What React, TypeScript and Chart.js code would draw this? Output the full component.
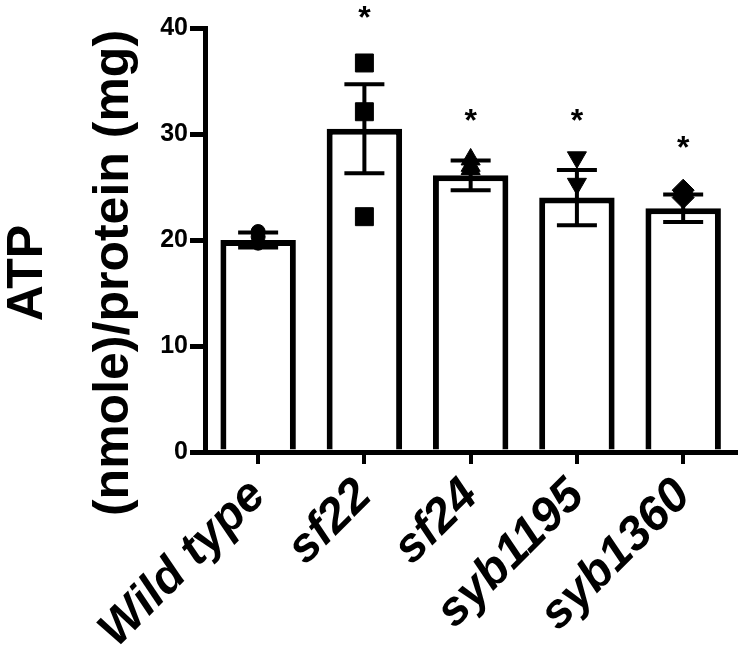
import React, { useEffect, useRef } from 'react';
import { Chart, registerables } from 'chart.js';

Chart.register(...registerables);

// ---- data ----
const categories = ['Wild type', 'sf22', 'sf24', 'syb1195', 'syb1360'];
const meanValues = [20.0, 30.5, 26.1, 24.0, 23.0];
const semValues = [0.7, 4.2, 1.4, 2.6, 1.3];
const wildTypePoints = [20.8, 20.3, 19.7];
const sf22Points = [36.7, 32.1, 22.2];
const sf24Points = [27.6, 27.0, 26.7];
const syb1195Points = [27.8, 25.3];
const syb1360Points = [24.7, 24.3, 24.0];
const asteriskValues: (number | null)[] = [null, 41.5, 31.8, 31.8, 29.2];
const yMin = 0;
const yMax = 40;
const yStep = 10;
const yTitleLines = ['ATP', '(nmole)/protein (mg)'];

const FONT = "'Liberation Sans', Arial, Helvetica, sans-serif";

// marker styles per group (built from the arrays above)
const pointGroups = [
  { cat: 0, values: wildTypePoints, style: 'circle', radius: 7, rotation: 0 },
  { cat: 1, values: sf22Points, style: 'rect', radius: 12.7, rotation: 0 },
  { cat: 2, values: sf24Points, style: 'triangle', radius: 11, rotation: 0 },
  { cat: 3, values: syb1195Points, style: 'triangle', radius: 11, rotation: 180 },
  { cat: 4, values: syb1360Points, style: 'rectRot', radius: 11, rotation: 0 },
];

const errorBarPlugin = {
  id: 'errorBars',
  afterDatasetDraw(chart: any, args: any) {
    if (args.index !== 0) return;
    const { ctx, scales } = chart;
    const x = scales.x;
    const y = scales.y;
    ctx.save();
    ctx.strokeStyle = '#000';
    ctx.lineWidth = 4;
    ctx.lineCap = 'butt';
    categories.forEach((_, i) => {
      const px = x.getPixelForValue(i);
      const hi = y.getPixelForValue(meanValues[i] + semValues[i]);
      const lo = y.getPixelForValue(meanValues[i] - semValues[i]);
      ctx.beginPath();
      ctx.moveTo(px, hi);
      ctx.lineTo(px, lo);
      ctx.moveTo(px - 20, hi);
      ctx.lineTo(px + 20, hi);
      ctx.moveTo(px - 20, lo);
      ctx.lineTo(px + 20, lo);
      ctx.stroke();
    });
    ctx.restore();
  },
};

const annotationPlugin = {
  id: 'annotations',
  afterDraw(chart: any) {
    const { ctx, scales } = chart;
    const x = scales.x;
    const y = scales.y;
    ctx.save();
    ctx.fillStyle = '#000';
    // asterisks
    ctx.font = `bold 32px ${FONT}`;
    ctx.textAlign = 'center';
    ctx.textBaseline = 'alphabetic';
    asteriskValues.forEach((v, i) => {
      if (v == null) return;
      const m = ctx.measureText('*');
      const px = x.getPixelForValue(i);
      const py = y.getPixelForValue(v);
      ctx.fillText('*', px, py + (m.actualBoundingBoxAscent - m.actualBoundingBoxDescent) / 2);
    });
    // y-axis title (two lines, rotated)
    const centerY = 273;
    const baselines = [42, 128];
    ctx.font = `bold 50px ${FONT}`;
    yTitleLines.forEach((line, i) => {
      ctx.save();
      ctx.translate(baselines[i], centerY);
      ctx.rotate(-Math.PI / 2);
      ctx.textAlign = 'center';
      ctx.textBaseline = 'alphabetic';
      ctx.fillText(line, 0, 0);
      ctx.restore();
    });
    ctx.restore();
  },
};

export default function App() {
  const canvasRef = useRef<HTMLCanvasElement | null>(null);

  useEffect(() => {
    const canvas = canvasRef.current;
    if (!canvas) return;

    const datasets: any[] = [
      {
        type: 'bar',
        data: meanValues,
        backgroundColor: '#ffffff',
        borderColor: '#000000',
        borderWidth: 6,
        borderSkipped: 'start',
        barPercentage: 0.71,
        categoryPercentage: 1.0,
        order: 10,
      },
      ...pointGroups.map((g) => ({
        type: 'line',
        data: g.values.map((v) => ({ x: categories[g.cat], y: v })),
        showLine: false,
        pointStyle: g.style,
        pointRadius: g.radius,
        pointRotation: g.rotation,
        pointBackgroundColor: '#000',
        pointBorderColor: '#000',
        pointBorderWidth: 1,
        order: 0,
        clip: false,
      })),
    ];

    const chart = new Chart(canvas, {
      type: 'bar',
      data: { labels: categories, datasets },
      options: {
        responsive: false,
        animation: false,
        events: [],
        layout: { padding: { top: 28, right: 7, left: 0, bottom: 0 } },
        plugins: {
          legend: { display: false },
          tooltip: { enabled: false },
          title: { display: false },
        },
        scales: {
          x: {
            type: 'category',
            offset: true,
            afterFit: (s: any) => {
              s.height = 215;
            },
            border: { display: true, color: '#000', width: 5 },
            grid: {
              display: true,
              offset: false,
              drawOnChartArea: false,
              drawTicks: true,
              tickLength: 12,
              lineWidth: 4,
              color: '#000',
            },
            ticks: {
              color: '#000',
              maxRotation: 45,
              minRotation: 45,
              padding: 4,
              font: { family: FONT, size: 48, weight: 'bold', style: 'italic' },
            },
          },
          y: {
            min: yMin,
            max: yMax,
            afterFit: (s: any) => {
              s.width = 205;
            },
            border: { display: true, color: '#000', width: 5 },
            grid: {
              display: true,
              drawOnChartArea: false,
              drawTicks: true,
              tickLength: 15,
              lineWidth: 5,
              color: '#000',
            },
            ticks: {
              stepSize: yStep,
              color: '#000',
              padding: 2,
              font: { family: FONT, size: 25, weight: 'bold' },
            },
          },
        },
      },
      plugins: [errorBarPlugin, annotationPlugin],
    } as any);

    return () => chart.destroy();
  }, []);

  return (
    <div style={{ position: 'fixed', left: 0, top: 0, width: 750, height: 667, background: '#fff' }}>
      <canvas ref={canvasRef} width={750} height={667} />
    </div>
  );
}
